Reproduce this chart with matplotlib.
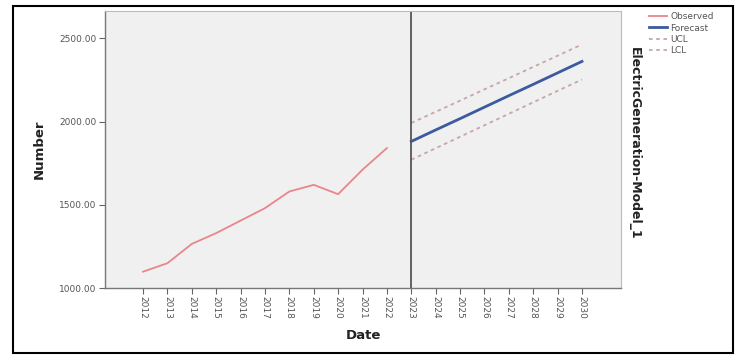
import matplotlib
matplotlib.use("Agg")
import matplotlib.pyplot as plt
from matplotlib.patches import Rectangle

# Annual observed values and the model forecast with control limits
obs_years = [2012, 2013, 2014, 2015, 2016, 2017, 2018, 2019, 2020, 2021, 2022]
observed = [1098, 1149, 1265, 1330, 1405, 1480, 1580, 1620, 1564, 1711, 1841]

fc_years = [2023, 2024, 2025, 2026, 2027, 2028, 2029, 2030]
forecast = [1881, 1950, 2018, 2087, 2156, 2224, 2293, 2362]
ucl = [1992, 2059, 2126, 2194, 2261, 2329, 2396, 2464]
lcl = [1771, 1840, 1909, 1978, 2047, 2116, 2185, 2253]

tick_years = list(range(2012, 2031))
y_ticks = [1000, 1500, 2000, 2500]

fig = plt.figure(figsize=(7.42, 3.56), dpi=100)
fig.patch.set_facecolor("white")
ax = fig.add_axes([105 / 742, 1 - 288 / 356, (621 - 105) / 742, (288 - 11) / 356])
ax.set_facecolor("#f0f0f0")

ax.plot(obs_years, observed, color="#e8868c", lw=1.3, label="Observed")
ax.plot(fc_years, forecast, color="#3c5a9e", lw=2.0, label="Forecast")
ax.plot(fc_years, ucl, color="#c8a4ac", lw=1.3, ls=(0, (2, 2)), label="UCL")
ax.plot(fc_years, lcl, color="#c8a4ac", lw=1.3, ls=(0, (2, 2)), label="LCL")

ax.axvline(2023, color="#555555", lw=1.3)

ax.set_xlim(2010.44, 2031.6)
ax.set_ylim(1000, 2665)
ax.set_xticks(tick_years)
ax.set_xticklabels([str(y) for y in tick_years], rotation=270, fontsize=6.5, color="#555555")
ax.set_yticks(y_ticks)
ax.set_yticklabels([f"{v:.2f}" for v in y_ticks], fontsize=6.5, color="#555555")
ax.tick_params(axis="both", direction="out", length=4, width=0.8, color="#666666", pad=2)

for side in ["top", "right"]:
    ax.spines[side].set_color("#bbbbbb")
for side in ["left", "bottom"]:
    ax.spines[side].set_color("#777777")
    ax.spines[side].set_linewidth(1.0)

ax.set_xlabel("Date", fontsize=9.5, fontweight="bold", color="#222222", labelpad=7)
ax.set_ylabel("Number", fontsize=9.5, fontweight="bold", color="#222222", labelpad=10)

fig.text(634 / 742, 1 - 143 / 356, "ElectricGeneration-Model_1", rotation=270,
         ha="center", va="center", fontsize=9, fontweight="bold", color="#222222")

fig.legend(loc="upper left", bbox_to_anchor=(643 / 742, 1 - 6 / 356), frameon=False,
           fontsize=6.5, handlelength=2.0, handletextpad=0.3, labelspacing=0.25,
           borderpad=0.2, labelcolor="#555555")

fig.patches.append(Rectangle((13 / 742, 3 / 356), (733 - 13) / 742, (350 - 3) / 356,
                             transform=fig.transFigure, fill=False, edgecolor="black", lw=1.5))

fig.savefig("out.png", dpi=100)
